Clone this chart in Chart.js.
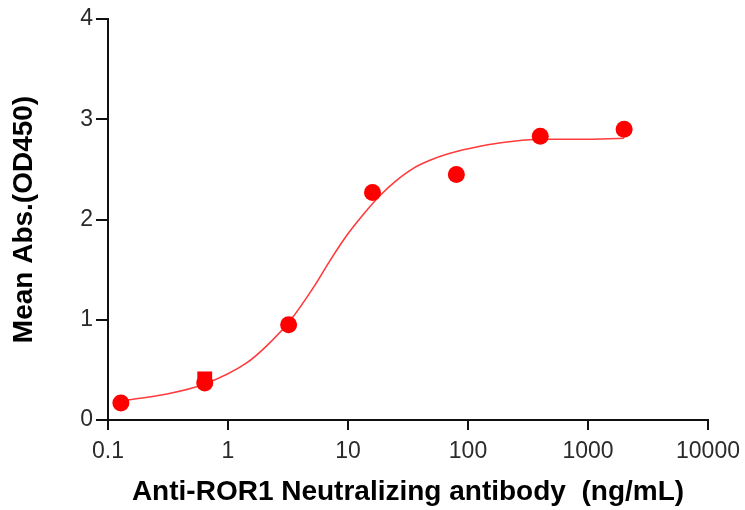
<!DOCTYPE html>
<html>
<head>
<meta charset="utf-8">
<script src="https://cdn.jsdelivr.net/npm/chart.js@4/dist/chart.umd.min.js"></script>
<style>
  html, body { margin: 0; padding: 0; background: #fff; }
  #wrap { width: 745px; height: 510px; }
</style>
</head>
<body>
<div id="wrap"><canvas id="c" width="745" height="510"></canvas></div>
<script>
// Measured points (ng/mL vs Mean Abs OD450)
const concentrations = [0.128, 0.64, 3.2, 16, 80, 400, 2000];
const meanAbs = [0.17, 0.37, 0.95, 2.27, 2.45, 2.83, 2.90];
// Overlapping square marker at 0.64 ng/mL
const squareX = [0.64];
const squareY = [0.41];
// Fitted curve
const fitX = [0.128, 0.31, 0.64, 1.43, 2.1, 3.29, 5.14, 7.08, 9.75, 13.4, 18.5, 25.4, 35, 48.2, 66.4, 126, 240, 400, 860, 2000];
const fitY = [0.19, 0.26, 0.36, 0.57, 0.74, 0.99, 1.32, 1.59, 1.84, 2.05, 2.24, 2.39, 2.51, 2.59, 2.65, 2.73, 2.78, 2.80, 2.80, 2.81];
// Tick labels
const xTicks = [0.1, 1, 10, 100, 1000, 10000];
const yTicks = [0, 1, 2, 3, 4];
const xTitle = 'Anti-ROR1 Neutralizing antibody  (ng/mL)';
const yTitle = 'Mean Abs.(OD450)';

const pts = (xs, ys) => xs.map((x, i) => ({ x: x, y: ys[i] }));

new Chart(document.getElementById('c'), {
  type: 'scatter',
  data: {
    datasets: [
      {
        data: pts(fitX, fitY),
        showLine: true,
        borderColor: '#ff3b3b',
        borderWidth: 1.6,
        pointRadius: 0,
        cubicInterpolationMode: 'monotone',
        order: 3
      },
      {
        data: pts(squareX, squareY),
        pointStyle: 'rect',
        pointRadius: 10.5,
        backgroundColor: '#ff0000',
        borderWidth: 0,
        order: 2
      },
      {
        data: pts(concentrations, meanAbs),
        pointStyle: 'circle',
        pointRadius: 8.5,
        backgroundColor: '#ff0000',
        borderWidth: 0,
        order: 1
      }
    ]
  },
  options: {
    responsive: false,
    animation: false,
    events: [],
    layout: { padding: { top: 19, right: 37, left: 0, bottom: 0 } },
    plugins: { legend: { display: false }, tooltip: { enabled: false } },
    scales: {
      x: {
        type: 'logarithmic',
        min: 0.1,
        max: 10000,
        afterBuildTicks: (s) => { s.ticks = xTicks.map(v => ({ value: v })); },
        afterFit: (s) => { s.height = 90; s.paddingLeft = 0; s.paddingRight = 0; },
        ticks: {
          autoSkip: false,
          maxRotation: 0,
          padding: 8,
          color: '#2a2a2a',
          font: { family: 'Liberation Sans', size: 23 },
          callback: (v) => String(v)
        },
        grid: { display: true, drawOnChartArea: false, drawTicks: true, tickLength: 10, color: '#111', lineWidth: 2 },
        border: { display: true, color: '#111', width: 2 },
        title: {
          display: true,
          text: xTitle,
          color: '#000',
          font: { family: 'Liberation Sans', size: 28, weight: 'bold' },
          padding: { top: 4, bottom: 1 }
        }
      },
      y: {
        type: 'linear',
        min: 0,
        max: 4,
        afterBuildTicks: (s) => { s.ticks = yTicks.map(v => ({ value: v })); },
        afterFit: (s) => { s.width = 108; s.paddingTop = 0; s.paddingBottom = 0; },
        ticks: {
          padding: 3,
          color: '#2a2a2a',
          font: { family: 'Liberation Sans', size: 23 }
        },
        grid: { display: true, drawOnChartArea: false, drawTicks: true, tickLength: 12, color: '#111', lineWidth: 2 },
        border: { display: true, color: '#111', width: 2 },
        title: {
          display: true,
          text: yTitle,
          color: '#000',
          font: { family: 'Liberation Sans', size: 28, weight: 'bold' },
          padding: { top: 7, bottom: 10 }
        }
      }
    }
  }
});
</script>
</body>
</html>
